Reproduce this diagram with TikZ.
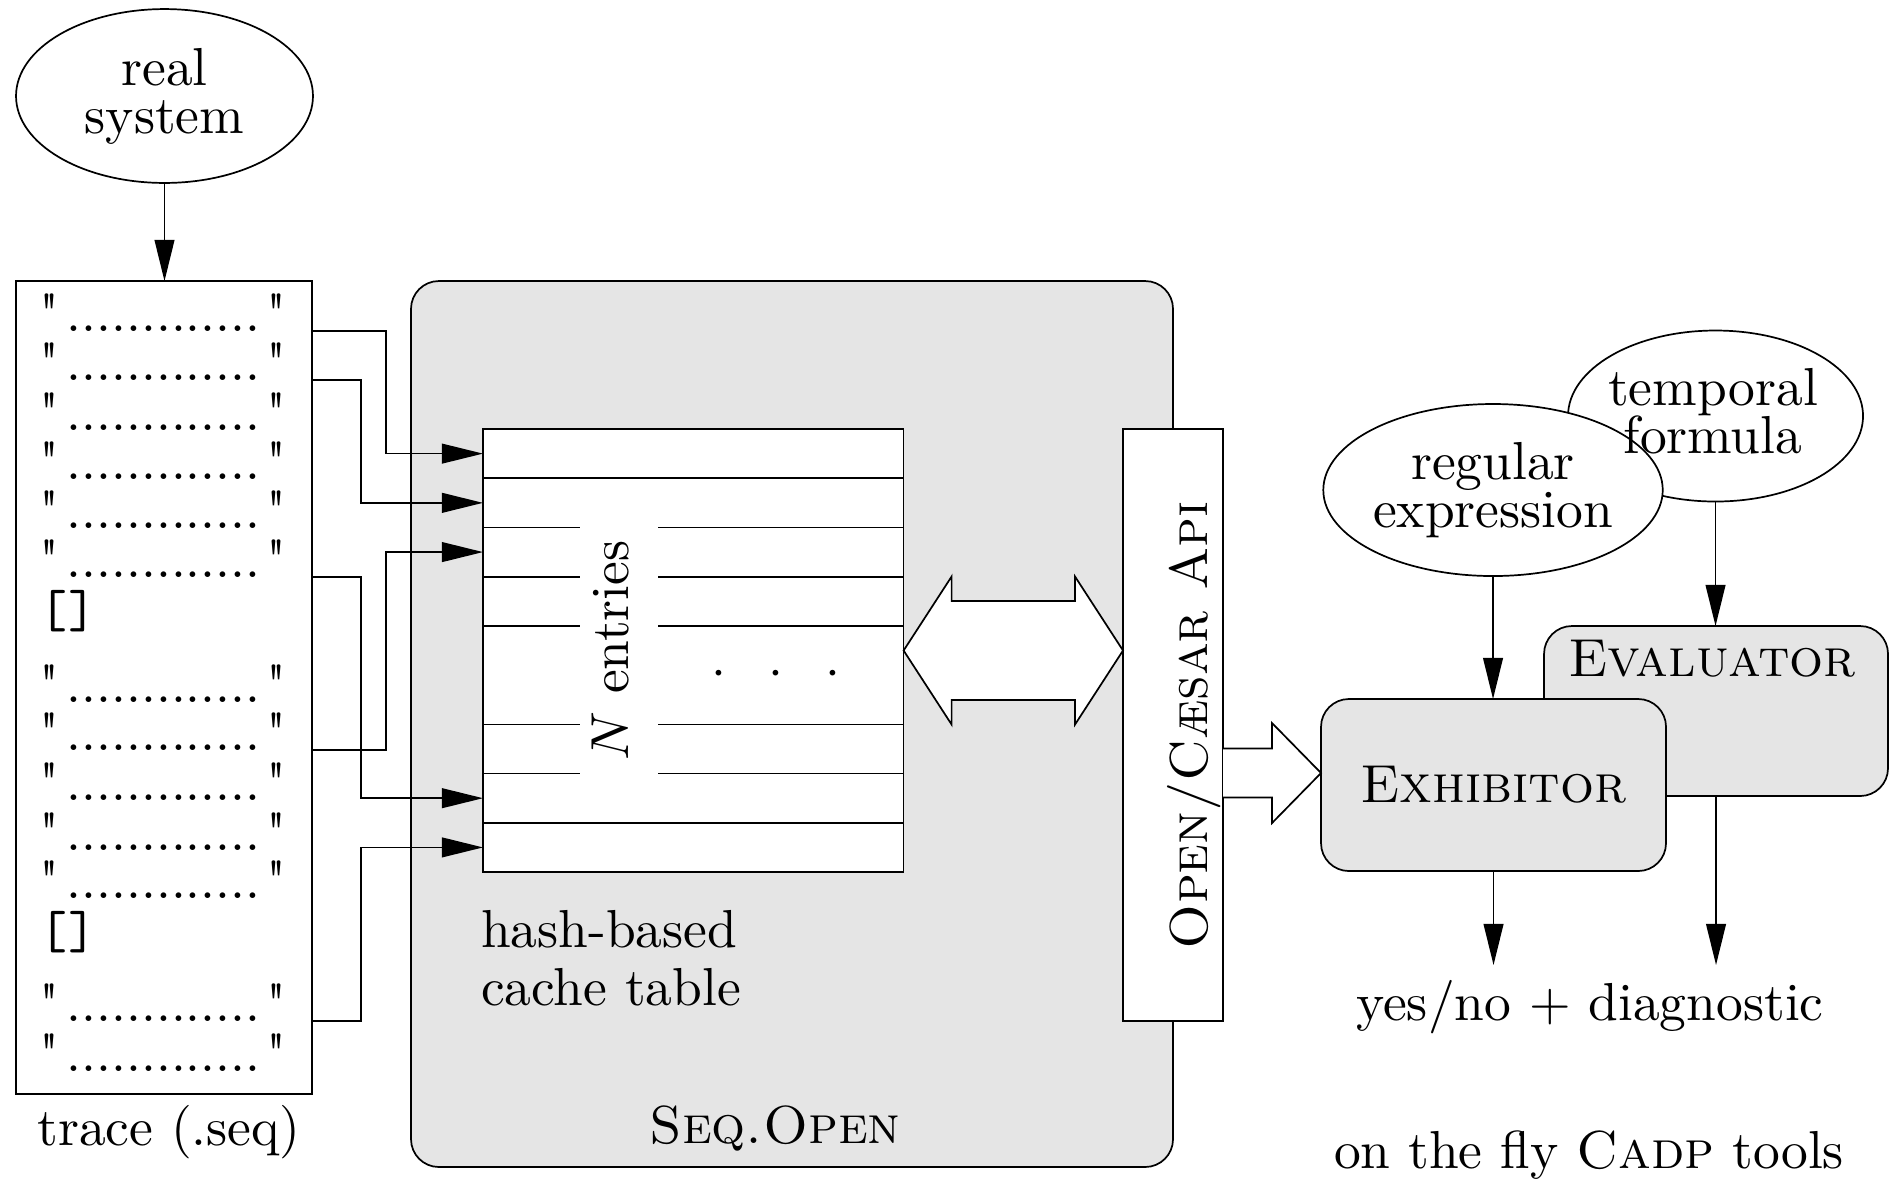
\documentclass[tikz,border=0pt]{standalone}
\usetikzlibrary{shapes.geometric,arrows.meta,calc}
\newcommand\dq{\XeTeXglyph\XeTeXcharglyph"22\relax}
\begin{document}
\begin{tikzpicture}[x=0.1869pt,y=-0.1869pt,line width=0.32pt,
  >={Triangle[length=7.7pt,width=3.7pt]},
  every node/.style={inner sep=0pt,outer sep=0pt},
  oval/.style={ellipse,draw,align=center,font=\fontsize{10}{9}\selectfont},
  tool/.style={draw,fill=black!10,rounded corners=5.2pt},
  plain/.style={draw,fill=white},
  row/.style={anchor=base west},
  lbl/.style={anchor=base}]
\fill[white] (0,0) rectangle (1889,1179);
\useasboundingbox (0,0) rectangle (1889,1179);

% real system and trace
\node[oval,minimum width=55.5pt,minimum height=32.5pt] (real) at (164.5,96) {real\\system};
\node[draw,minimum width=55.32pt,minimum height=151.95pt] (trace) at (164,687.5) {};
\node[lbl] (tracelbl) at (169,1145) {trace (.seq)};
\foreach \n/\b in {1/331,2/380,3/430,4/479,5/528,6/577,7/702,8/750,9/800,10/850,11/898,12/1021,13/1071}
  \node[row] (r\n) at (40,\b) {\dq\kern1.3pt.............\kern1.1pt\dq};
\node[row,font=\ttfamily] (b1) at (40,627) {[]};
\node[row,font=\ttfamily] (b2) at (40,948) {[]};
\draw[->] (real.south) -- (real.south |- trace.north);

% Seq.Open
\node[tool,minimum width=142.42pt,minimum height=165.59pt] (seqopen) at (792,724) {};
\node[lbl] (seqlbl) at (775,1143) {\textsc{Seq.Open}};

% cache table
\node[plain,minimum width=78.61pt,minimum height=82.80pt] (tab) at (693.3,650.5) {};
\foreach \k in {1,8}
  \draw ($(tab.north west)!{\k/9}!(tab.south west)$) -- ($(tab.north east)!{\k/9}!(tab.south east)$);
\foreach \k in {2,3,4,6,7} {
  \draw ($(tab.north west)!{\k/9}!(tab.south west)$) -- +(97,0);
  \draw ($(tab.north east)!{\k/9}!(tab.south east)$) -- +(-245.6,0);
}
\node[rotate=90] (nent) at (610,650.5) {$N$ entries};
\node[lbl] (tdots) at (776,686.4) {${\cdot}\hspace{0.79em}{\cdot}\hspace{0.79em}{\cdot}$};
\node[anchor=north west,align=left,font=\fontsize{10}{10.84}\selectfont] (hash) at (481,910) {hash-based\\cache table};

\coordinate (t1) at ($(tab.north west)!{1/18}!(tab.south west)$);
\coordinate (t2) at ($(tab.north west)!{3/18}!(tab.south west)$);
\coordinate (t3) at ($(tab.north west)!{5/18}!(tab.south west)$);
\coordinate (t8) at ($(tab.north west)!{15/18}!(tab.south west)$);
\coordinate (t9) at ($(tab.north west)!{17/18}!(tab.south west)$);
\draw[->] (trace.east |- r1.base) -- ++(74,0) |- (t1);
\draw[->] (trace.east |- r2.base) -- ++(49,0) |- (t2);
\draw[->] (trace.east |- r6.base) -- ++(49,0) |- (t8);
\draw[->] (trace.east |- r8.base) -- ++(74,0) |- (t3);
\draw[->] (trace.east |- r12.base) -- ++(49,0) |- (t9);

% Open/Caesar API
\node[plain,minimum width=18.69pt,minimum height=110.64pt] (api) at (1173,725) {};
\node[rotate=90] (apilbl) at (1193.6,725) {\textsc{Open/Cæsar Api}};
\draw[fill=white] (tab.east) -- ++(48,-74) -- ++(0,24.5)
  -- ($(tab.east -| api.west)+(-48,-49.5)$) -- ++(0,-24.5) -- (tab.east -| api.west)
  -- ++(-48,74) -- ++(0,-24.5) -- ($(tab.east)+(48,49.5)$) -- ++(0,24.5) -- cycle;

% tools
\node[tool,minimum width=64.29pt,minimum height=31.77pt] (eval) at (1716,711) {};
\node[lbl] (evallbl) at (1712,676) {\textsc{Evaluator}};
\node[tool,minimum width=64.48pt,minimum height=32.15pt] (exh) at (1493.5,785) {\textsc{Exhibitor}};
\coordinate (fa) at ($(api.east)+(0,48)$);
\draw[fill=white] ($(fa)+(0,-24.5)$) -- ++(49,0) -- ++(0,-25.5) -- (fa -| exh.west)
  -- ++(-49,50) -- ++(0,-25.5) -- ++(-49,0);

% formulas
\node[ellipse,draw,minimum width=55.14pt,minimum height=31.96pt] (temp) at (1715.5,416) {};
\node[oval,fill=white,minimum width=55.32pt,minimum height=32.15pt] (reg) at (1493,490) {regular\\expression};
\node[align=center,font=\fontsize{10}{9}\selectfont] (templbl) at (1713,411) {temporal\\formula};
\draw[->] (reg.south) -- (reg.south |- exh.north);
\draw[->] (temp.south) -- (temp.south |- eval.north);

% results
\coordinate (res) at (1600,965);
\draw[->] (exh.south) -- (exh.south |- res);
\draw[->] (eval.south) -- (eval.south |- res);
\node[lbl] (yesno) at (1590,1020) {yes/no $+$ diagnostic};
\node[lbl] (cadp) at (1589,1168) {on the fly \textsc{Cadp} tools};
\end{tikzpicture}
\end{document}
